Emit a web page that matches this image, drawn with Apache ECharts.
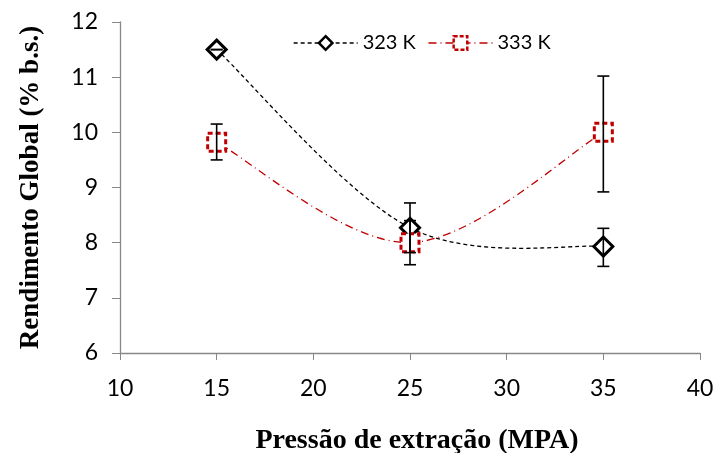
<!DOCTYPE html>
<html>
<head>
<meta charset="utf-8">
<script src="https://cdn.jsdelivr.net/npm/echarts@6/dist/echarts.min.js"></script>
<style>
  html, body { margin: 0; padding: 0; background: #fff; }
  #chart { width: 717px; height: 453px; }
</style>
</head>
<body>
<div id="chart"></div>
<script>
// pressure (MPa)
var pressures = [15, 25, 35];
// yield, % dry basis
var yield323 = [11.5, 8.27, 7.93];
var yield333 = [9.82, 8.0, 10.0];
// error bar ranges [low, high]
var err323 = [[11.5, 11.5], [7.82, 8.72], [7.57, 8.26]];
var err333 = [[9.5, 10.15], [7.6, 8.4], [8.92, 11.02]];

var xTicks = [10, 15, 20, 25, 30, 35, 40];
var yTicks = [6, 7, 8, 9, 10, 11, 12];

var dash323 = [4, 3];
var dash333 = [8, 4, 1, 4];

function pairs(xs, ys) {
  return xs.map(function (x, i) { return [x, ys[i]]; });
}
function errData(xs, errs) {
  return xs.map(function (x, i) { return [x, errs[i][0], errs[i][1]]; });
}

var chartDom = document.getElementById("chart");
var myChart = echarts.init(chartDom);

function renderErr(params, api) {
  var x = api.value(0);
  var lo = api.coord([x, api.value(1)]);
  var hi = api.coord([x, api.value(2)]);
  var cap = 6;
  var style = { stroke: "#000", lineWidth: 1.6 };
  return {
    type: "group",
    children: [
      { type: "line", shape: { x1: lo[0], y1: lo[1], x2: hi[0], y2: hi[1] }, style: style },
      { type: "line", shape: { x1: lo[0] - cap, y1: lo[1], x2: lo[0] + cap, y2: lo[1] }, style: style },
      { type: "line", shape: { x1: hi[0] - cap, y1: hi[1], x2: hi[0] + cap, y2: hi[1] }, style: style }
    ]
  };
}

// spreadsheet-style smoothed segment (catmull-rom like, 1/6 handles)
function smoothRenderer(ys, color, dash) {
  return function (params, api) {
    var i = params.dataIndex;
    if (i >= pressures.length - 1) return null;
    var pts = pressures.map(function (x, k) { return api.coord([x, ys[k]]); });
    var p0 = pts[Math.max(i - 1, 0)];
    var p1 = pts[i];
    var p2 = pts[i + 1];
    var p3 = pts[Math.min(i + 2, pts.length - 1)];
    return {
      type: "bezierCurve",
      shape: {
        x1: p1[0], y1: p1[1], x2: p2[0], y2: p2[1],
        cpx1: p1[0] + (p2[0] - p0[0]) / 6, cpy1: p1[1] + (p2[1] - p0[1]) / 6,
        cpx2: p2[0] - (p3[0] - p1[0]) / 6, cpy2: p2[1] - (p3[1] - p1[1]) / 6
      },
      style: { stroke: color, fill: null, lineWidth: 1.3, lineDash: dash }
    };
  };
}

var option = {
  animation: false,
  grid: { left: 120, right: 17, top: 22, bottom: 100, outerBoundsMode: "none" },
  legend: {
    top: 28,
    left: 288,
    itemWidth: 64,
    itemHeight: 17,
    itemGap: 12,
    textStyle: { fontFamily: "Lato", fontSize: 20, color: "#000" },
    data: [
      {
        name: "323 K",
        lineStyle: { color: "#000", width: 1.3, type: dash323, opacity: 1 },
        itemStyle: { borderWidth: 2.5 }
      },
      {
        name: "333 K",
        lineStyle: { color: "#c00000", width: 1.3, type: dash333, opacity: 1 },
        itemStyle: { borderWidth: 2.5, borderType: [4, 2] }
      }
    ]
  },
  xAxis: {
    type: "value",
    min: xTicks[0],
    max: xTicks[xTicks.length - 1],
    interval: 5,
    name: "Pressão de extração (MPA)",
    nameLocation: "middle",
    nameGap: 74,
    nameTextStyle: { fontFamily: "Liberation Serif", fontWeight: "bold", fontSize: 28, color: "#000", padding: [0, 0, 0, 14] },
    axisLine: { lineStyle: { color: "#888", width: 1.3 } },
    axisTick: { show: true, length: 7, lineStyle: { color: "#888" } },
    axisLabel: { margin: 24, fontFamily: "Lato", fontSize: 23, color: "#000" },
    splitLine: { show: false }
  },
  yAxis: {
    type: "value",
    min: yTicks[0],
    max: yTicks[yTicks.length - 1],
    interval: 1,
    name: "Rendimento Global (% b.s.)",
    nameLocation: "middle",
    nameGap: 75,
    nameTextStyle: { fontFamily: "Liberation Serif", fontWeight: "bold", fontSize: 27, color: "#000" },
    axisLine: { show: true, lineStyle: { color: "#888", width: 1.3 } },
    axisTick: { show: true, length: 8, lineStyle: { color: "#888" } },
    axisLabel: { margin: 22, fontFamily: "Lato", fontSize: 23, color: "#000" },
    splitLine: { show: false }
  },
  series: [
    {
      name: "curve323",
      type: "custom",
      renderItem: smoothRenderer(yield323, "#000", dash323),
      data: pairs(pressures, yield323),
      z: 2,
      silent: true
    },
    {
      name: "curve333",
      type: "custom",
      renderItem: smoothRenderer(yield333, "#c00000", dash333),
      data: pairs(pressures, yield333),
      z: 2,
      silent: true
    },
    {
      name: "323 K",
      type: "line",
      data: pairs(pressures, yield323),
      symbol: "diamond",
      symbolSize: 19,
      z: 3,
      lineStyle: { color: "#000", width: 1.3, type: dash323, opacity: 0 },
      itemStyle: { color: "#fff", borderColor: "#000", borderWidth: 3 }
    },
    {
      name: "333 K",
      type: "line",
      data: pairs(pressures, yield333),
      symbol: "rect",
      symbolSize: 18,
      z: 3,
      lineStyle: { color: "#c00000", width: 1.3, type: dash333, opacity: 0 },
      itemStyle: { color: "#fff", borderColor: "#c00000", borderWidth: 3, borderType: [5, 3] }
    },
    {
      name: "err323",
      type: "custom",
      renderItem: renderErr,
      data: errData(pressures, err323),
      z: 4,
      silent: true
    },
    {
      name: "err333",
      type: "custom",
      renderItem: renderErr,
      data: errData(pressures, err333),
      z: 4,
      silent: true
    }
  ]
};

myChart.setOption(option);
</script>
</body>
</html>
